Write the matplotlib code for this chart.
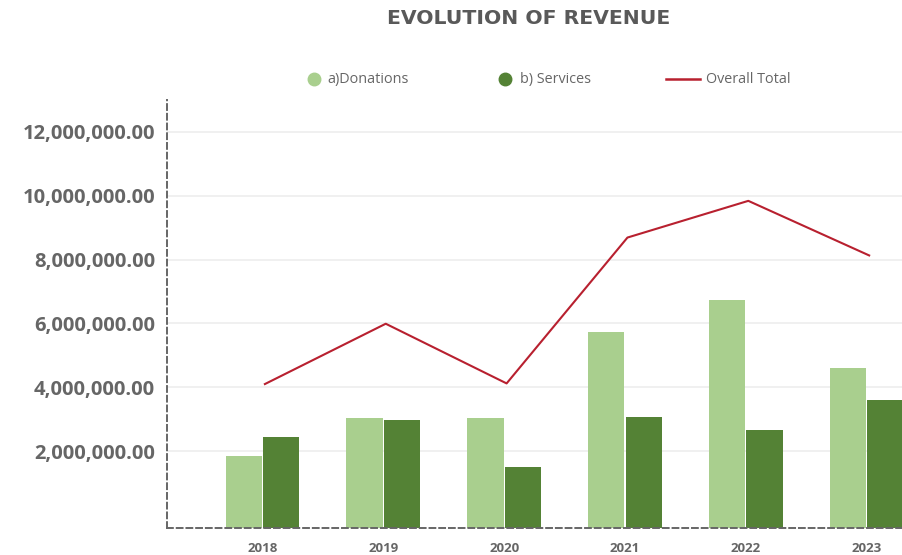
import matplotlib
matplotlib.use("Agg")
import matplotlib.pyplot as plt
from matplotlib.lines import Line2D
import numpy as np

years = ["2018", "2019", "2020", "2021", "2022", "2023"]
donations = [1.86e6, 3.04e6, 3.04e6, 5.74e6, 6.74e6, 4.61e6]
services = [2.45e6, 2.98e6, 1.50e6, 3.07e6, 2.66e6, 3.60e6]
overall_total = [4.10e6, 5.99e6, 4.12e6, 8.69e6, 9.84e6, 8.13e6]
y_ticks = [2e6, 4e6, 6e6, 8e6, 10e6, 12e6]
legend_labels = ["a)Donations", "b) Services", "Overall Total"]

c_don = "#A9CF8E"
c_srv = "#548235"
c_tot = "#B8202F"
grey = "#666666"
font = "Open Sans"

W, H = 903, 555
fig = plt.figure(figsize=(W/100, H/100), dpi=100)
ax = fig.add_axes([167/W, 1-528/H, 1-167/W, (528-100)/H])

x = np.arange(len(years))
ymin, ymax = -0.41e6, 13.0e6
w = 0.30
ax.bar(x - w/2 - 0.005, np.array(donations) - ymin, w, bottom=ymin, color=c_don, zorder=2)
ax.bar(x + w/2 + 0.005, np.array(services) - ymin, w, bottom=ymin, color=c_srv, zorder=2)
ax.plot(x + 0.02, overall_total, color=c_tot, lw=1.5, zorder=3)

ax.set_xlim(-0.79, 5.30)
ax.set_ylim(ymin, ymax)
ax.set_yticks(y_ticks)
ax.set_yticklabels([f"{v:,.2f}" for v in y_ticks], fontsize=14.5, fontweight="bold",
                   color=grey, family=font)
ax.set_xticks(x)
ax.set_xticklabels(years, fontsize=9.5, fontweight="bold", color=grey, family=font)
ax.tick_params(axis="both", length=0)
ax.tick_params(axis="y", pad=8.5)
ax.tick_params(axis="x", pad=10)
ax.grid(axis="y", color="#EEEEEE", lw=1.2, zorder=0)
ax.set_axisbelow(True)
for s in ["top", "right"]:
    ax.spines[s].set_visible(False)
for s in ["left", "bottom"]:
    ax.spines[s].set_color(grey)
    ax.spines[s].set_linestyle((0, (3, 2)))
    ax.spines[s].set_linewidth(1.4)

fig.text(529/W, 1-19/H, "EVOLUTION OF REVENUE", ha="center", va="center",
         fontsize=14.7, fontweight="bold", color="#595959", family="DejaVu Sans")

# legend (drawn manually to match spacing)
ly = 1 - 79/H
lb = 1 - 83/H
tf = fig.transFigure
fig.add_artist(Line2D([314/W], [ly], transform=tf, marker="o", ls="none",
                      color=c_don, markersize=9))
fig.text(327/W, lb, legend_labels[0], ha="left", va="baseline", fontsize=10.4,
         color=grey, family=font)
fig.add_artist(Line2D([505/W], [ly], transform=tf, marker="o", ls="none",
                      color=c_srv, markersize=9))
fig.text(520/W, lb, legend_labels[1], ha="left", va="baseline", fontsize=10.4,
         color=grey, family=font)
fig.add_artist(Line2D([666/W, 700/W], [ly, ly], transform=tf, color=c_tot, lw=1.8))
fig.text(706/W, lb, legend_labels[2], ha="left", va="baseline", fontsize=10.4,
         color=grey, family=font)

fig.savefig("out.png", dpi=100)
